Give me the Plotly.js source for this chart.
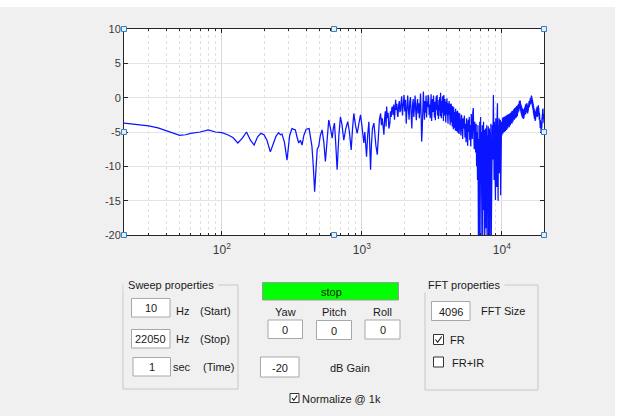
<!DOCTYPE html>
<html><head><meta charset="utf-8">
<script src="https://cdn.plot.ly/plotly-3.0.1.min.js"></script>
<style>html,body{margin:0;padding:0;background:#fff}#plot{width:641px;height:416px}</style>
</head><body><div id="plot"></div>
<script>
// ---- data (frequency in Hz, level in dB) ----
const freqLow = [20,25,30,35,40,45,50,55,60,70,80,90,100,110,120,130,140,150,160,170,180,190,
  200,210,222,234,244,254,262,269,280,292,305,317,335,345,354,364,374,385,395,
  400,420,440,450,460,470,480,492,505,520,535,549,565,580,597,614,625,637,650,666,685,703,722,743,768,793,815,839,858,876,900,926,952,978];
const dbLow = [-3.7,-3.9,-4.1,-4.4,-4.8,-5.1,-5.5,-5.4,-5.2,-5.0,-4.7,-5.0,-5.1,-5.4,-5.8,-6.6,-5.9,-5.0,-6.2,-6.9,-5.7,-5.2,
  -5.4,-6.2,-7.9,-6.6,-5.6,-5.1,-5.4,-5.3,-6.5,-9.1,-5.5,-4.5,-4.7,-5.8,-6.6,-6.2,-6.9,-5.5,-4.7,
  -4.6,-4.5,-7.1,-10.0,-13.7,-10.5,-7.5,-7.1,-5.5,-4.7,-6.5,-9.3,-5.5,-3.25,-4.5,-5.9,-4.5,-3.7,-6.5,-10.5,-5.5,-2.8,-4.0,-6.2,-4.5,-3.5,-5.0,-7.6,-4.5,-2.3,-4.0,-5.2,-3.8,-2.5];

const freqMid = [1000,1015,1033,1050,1065,1080,1100,1122,1138,1154,1170,1190,1219,1240,1260,1289,1310,1335,1361,1380,1400,1420,1437,1455,1470,1490,1503,1520,1540,1560,1586,1600,1620,1635,1650,1670,1690,1710,1725,1743,1760,1780,1795,1810,1830,1850,1870,1892,
  1900,1925,1950,1975,2000,2025,2050,2075,2100,2125,
  2150,2175,2200,2225,2250,2275,2300,2325,2350,2375,
  2400,2425,2450,2475,2500,2525,2550,2575,2600,2625,
  2650,2675,2700,2725,2750,2775,2800,2825,2850,2875,
  2900,2925,2950,2975,3000,3025,3050,3075,3100,3125,
  3150,3175,3200,3225,3250,3275,3300,3325,3350,3375,
  3400,3425,3450,3475,3500,3525,3550,3575,3600,3625,
  3650,3675,3700,3725,3750,3775,3800,3825,3850,3875,
  3900,3925,3950,3975,4000,4025,4050,4075,4100,4125,
  4150,4175,4200,4225,4250,4275,4300,4325,4350,4375,
  4400,4425,4450,4475,4500,4525,4550,4575,4600,4625,
  4650,4675,4700,4725,4750,4775,4800,4825,4850,4875,
  4900,4925,4950,4975];
const dbMid = [-4.0,-5.2,-6.6,-5.0,-7.5,-8.6,-5.5,-3.5,-6.8,-10.5,-7.0,-4.5,-3.7,-5.5,-7.0,-8.3,-5.0,-3.2,-2.3,-4.0,-3.0,-4.8,-5.4,-3.0,-2.0,-4.2,-1.3,-3.0,-2.2,-4.5,-3.7,-2.0,-2.8,-1.6,-1.3,-2.5,-1.0,-3.2,-0.6,-0.3,-1.8,-0.9,-2.5,-2.8,-1.2,-0.5,-2.1,-1.8,
  -1.0,0.2,-2.6,-0.5,0.4,-2.0,-0.3,-3.8,-0.8,0.3,
  -1.7,-3.2,-0.6,0.1,-2.4,-4.5,-1.2,-0.2,-2.8,-0.7,
  0.3,-1.9,-3.3,-1.0,-0.2,-2.3,-0.8,-3.0,-0.4,0.6,
  -2.5,-6.4,-4.6,-0.9,0.9,-1.6,-3.2,-0.5,-2.2,0.3,
  -2.9,-0.6,-1.4,0.4,0.0,-2.5,-1.0,-3.0,-0.4,0.5,
  -3.4,-1.2,-0.2,-2.1,0.3,-1.5,-2.9,-0.6,-3.3,-0.9,
  0.2,-1.8,0.4,-2.6,-1.1,-3.1,-0.3,-1.9,0.1,-2.7,
  0.7,-1.4,-3.0,-0.5,-2.2,0.2,-1.6,-3.4,0.4,-1.0,
  -2.6,-0.2,-1.8,-3.6,-0.6,-2.4,-0.1,-3.0,-1.2,-3.8,
  -0.8,-2.5,-0.5,-3.2,-1.6,-4.0,-1.0,-2.8,-0.9,-3.6,
  -1.5,-4.2,-1.2,-3.0,-4.6,-1.4,-2.9,-1.8,-4.4,-2.1,
  -4.8,-1.6,-3.4,-2.0,-4.9,-2.3,-3.6,-1.9,-5.1,-2.6,
  -3.9,-2.2,-5.3,-2.8];

const freqHigh = [5000,5050,5100,5150,5200,5250,5300,5350,5400,5450,5500,5550,5600,5650,5700,5750,5800,5850,5900,5950,
  6000,6050,6100,6150,6200,6250,6300,6350,6400,6450,6500,6550,6600,6650,6700,6750,6800,6850,6900,6950,
  7000,7050,7100,7150,7200,7250,7300,7350,7400,7450,7500,7550,7600,7650,7700,7750,7800,7850,7900,7950,
  8000,8050,8100,8150,8200,8250,8300,8350,8400,8450,8500,8550,8600,8650,8700,8750,8800,8850,8900,8950,
  9000,9050,9100,9150,9200,9250,9300,9350,9400,9450,9500,9550,9600,9650,9700,9750,9800,9850,9900,9950];
const dbHigh = [-2.3,-4.0,-5.5,-2.5,-3.5,-6.0,-3.0,-4.5,-2.6,-5.8,-3.8,-6.5,-3.0,-4.8,-7.0,-3.2,-5.0,-2.8,-6.2,-4.0,
  -7.1,-2.4,-4.5,-6.0,-2.2,-1.5,-5.0,-7.5,-3.5,-4.8,-8.0,-3.8,-10.0,-5.0,-12.0,-4.0,-20.5,-6.0,-22,-3.5,
  -9.0,-2.8,-24,-5.0,-14,-4.0,-21,-6.5,-3.5,-16.4,-4.7,-23,-8.0,-4.5,-19,-6.0,-4.0,-25,-5.5,-11,
  -4.2,-21,-7.0,-4.5,-23,-5.0,-13,-3.8,-20.5,-6.0,-15.9,-4.0,-9.0,-2.0,0.4,-5.0,-12,-3.5,-8.0,-4.5,
  -14.9,-3.0,-7.5,-4.2,-13,-2.8,-0.8,-6.0,-15,-4.0,-9.0,-3.0,-11,-4.5,-7.0,-3.2,-14.2,-4.0,-8.5,-3.5];

const freqTop = [10000,10050,10100,10150,10200,10250,10300,10350,10400,10450,
  10500,10550,10600,10650,10700,10750,10800,10850,10900,10950,
  11000,11050,11100,11150,11200,11250,11300,11350,11400,11450,
  11500,11550,11600,11650,11700,11750,11800,11850,11900,11950,
  12000,12050,12100,12150,12200,12250,12300,12350,12400,12450,
  12500,12550,12600,12650,12700,12750,12800,12850,12900,12950,
  13000,13050,13100,13150,13200,13250,13300,13350,13400,13450,
  13500,13550,13600,13650,13700,13750,13800,13850,13900,13950,
  14000,14050,14100,14150,14200,14250,14300,14350,14400,14450,
  14500,14550,14600,14650,14700,14750,14800,14850,14900,14950,
  15000,15050,15100,15150,15200,15250,15300,15350,15400,15450,
  15500,15550,15600,15650,15700,15750,15800,15850,15900,15950,
  16000,16050,16100,16150,16200,16250,16300,16350,16400,16450,
  16500,16550,16600,16650,16700,16750,16800,16850,16900,16950,
  17000,17050,17100,17150,17200,17250,17300,17350,17400,17450,
  17500,17550,17600,17650,17700,17750,17800,17850,17900,17950,
  18000,18050,18100,18150,18200,18250,18300,18350,18400,18450,
  18500,18550,18600,18650,18700,18750,18800,18850,18900,18950,
  19000,19050,19100,19150,19200,19250,19300,19350,19400,19450,
  19500,19550,19600,19650,19700,19750,19800,19850,19900,19950,
  20000];
const dbTop = [-5.5,-3.2,-4.8,-2.9,-5.2,-3.5,-4.4,-2.8,-5.0,-3.3,
  -4.6,-2.7,-4.9,-3.1,-4.2,-2.6,-4.7,-3.0,-4.0,-2.5,
  -4.5,-2.9,-4.1,-2.4,-3.9,-2.7,-4.3,-2.3,-3.6,-2.6,
  -4.0,-2.2,-3.7,-2.5,-3.4,-2.0,-3.8,-2.3,-3.2,-1.9,
  -3.5,-2.1,-3.3,-1.7,-3.0,-2.0,-3.2,-1.5,-2.8,-1.8,
  -3.0,-1.4,-2.6,-1.6,-2.9,-1.2,-2.4,-1.5,-2.7,-1.1,
  -2.3,-1.0,-2.1,-0.9,-2.0,-0.7,-1.8,-0.5,-1.6,-0.4,
  -1.4,-0.6,-1.9,-0.9,-2.2,-1.1,-2.5,-1.3,-2.7,-1.5,
  -2.9,-1.6,-3.0,-1.8,-2.8,-1.7,-3.1,-1.9,-2.9,-1.6,
  -2.7,-1.4,-2.5,-1.2,-2.3,-1.0,-2.4,-1.1,-2.2,-0.9,
  -2.1,-0.8,-2.0,-1.0,-2.2,-1.1,-2.3,-1.2,-2.0,-0.9,
  -1.8,-0.7,-1.6,-0.5,-1.4,-0.4,-1.3,-0.2,-1.1,-0.1,
  -1.0,0.0,-0.9,0.2,-0.8,0.3,-0.7,0.2,-0.9,-0.1,
  -1.2,-0.3,-1.5,-0.6,-1.8,-0.9,-2.2,-1.2,-2.5,-1.5,
  -2.8,-1.7,-3.1,-1.9,-3.3,-2.1,-3.4,-2.0,-3.2,-1.9,
  -3.0,-1.7,-2.9,-1.6,-2.7,-1.4,-2.6,-1.3,-2.8,-1.5,
  -2.7,-1.4,-2.5,-1.2,-2.4,-1.1,-2.6,-1.5,-2.9,-1.8,
  -3.2,-2.2,-3.6,-2.6,-4.0,-3.0,-4.4,-3.3,-4.7,-3.5,
  -4.9,-3.8,-5.1,-4.0,-4.8,-3.6,-4.4,-2.9,-3.8,-2.4,
  -3.2,-1.9,-2.9,-1.6,-2.7,-1.8,-3.0,-2.4,-3.5,-2.9,
  -3.7];

const yTickVals = [10,5,0,-5,-10,-15,-20];
const yTickText = ['10','5','0','-5','-10','-15','-20'];
const xTickVals = [100,1000,10000];
const xTickText = ['10<sup>2</sup>','10<sup>3</sup>','10<sup>4</sup>'];

// ---- layout helpers (pixel -> paper) ----
const W = 641, H = 416;
const px = x => x / W, py = y => 1 - y / H;
const FONT = 'Liberation Sans, Arial, sans-serif';
const shapes = [];
function rect(x0, y0, x1, y1, fill, line, lw) {
  shapes.push({type:'rect', xref:'paper', yref:'paper', x0:px(x0), x1:px(x1), y0:py(y1), y1:py(y0),
    fillcolor:fill || 'rgba(0,0,0,0)', line:{color:line || 'rgba(0,0,0,0)', width:lw === undefined ? 1 : lw}, layer:'above'});
}
function path(pts, color, lw) {
  const d = pts.map((p, i) => (i ? 'L' : 'M') + px(p[0]) + ',' + py(p[1])).join(' ');
  shapes.push({type:'path', xref:'paper', yref:'paper', path:d, line:{color:color, width:lw}, layer:'above'});
}
const ann = [];
function txt(x, y, t, opts) {
  opts = opts || {};
  ann.push(Object.assign({xref:'paper', yref:'paper', x:px(x), y:py(y), text:t, showarrow:false,
    xanchor:'center', yanchor:'middle', font:{family:FONT, size:11, color:'#1a1a1a'}}, opts));
}

// white outer strips
rect(0, 0, 641, 7, '#ffffff', null, 0);
rect(615, 0, 641, 416, '#ffffff', null, 0);

// selection handles on the axes
[[124,29],[334,29],[544,29],[124,132],[544,132],[124,235],[334,235],[544,235]].forEach(p => {
  rect(p[0]-2.5, p[1]-2.5, p[0]+2.5, p[1]+2.5, '#e4eef8', '#3c7fc0', 1);
});

// panels
rect(123, 285, 238, 389, null, '#c8c8c8', 1);
txt(171, 285, ' Sweep properties ', {bgcolor:'#f0f0f0'});
rect(425, 285, 538, 390, null, '#c8c8c8', 1);
txt(464, 285, ' FFT properties ', {bgcolor:'#f0f0f0'});

// edit boxes
function edit(x0, y0, x1, y1, t) {
  rect(x0, y0, x1, y1, '#ffffff', '#a8a8a8', 1);
  txt((x0 + x1) / 2, (y0 + y1) / 2 + 0.5, t);
}
edit(131.5, 298.5, 170, 317, '10');
edit(131.5, 329.5, 170, 348, '22050');
edit(133, 357.5, 170.5, 376, '1');
edit(268, 320, 302.5, 338.5, '0');
edit(316.5, 320.5, 351.5, 339.5, '0');
edit(365, 320, 400, 339, '0');
edit(260.5, 357, 299, 377, '-20');
edit(431.5, 301.5, 470, 320.5, '4096');

txt(182, 310.5, 'Hz');
txt(215, 310.5, '(Start)');
txt(182, 339, 'Hz');
txt(215, 339, '(Stop)');
txt(181.5, 367, 'sec');
txt(218, 367, '(Time)');

// green button
rect(262.5, 282.5, 398.5, 300, '#00ff00', '#9a9a9a', 1);
txt(331, 291.5, 'stop');

txt(285, 311.5, 'Yaw');
txt(333.5, 311.5, 'Pitch');
txt(382, 311.5, 'Roll');
txt(350, 368, 'dB Gain');
txt(502.5, 311, 'FFT Size');

// check boxes
function check(x0, y0, s, on) {
  rect(x0, y0, x0 + s, y0 + s, '#ffffff', '#333333', 1);
  if (on) path([[x0 + 2, y0 + s * 0.5], [x0 + s * 0.42, y0 + s - 2.2], [x0 + s - 1.8, y0 + 2]], '#222222', 1.2);
}
check(290, 393.5, 9, true);
txt(341.5, 398.5, 'Normalize @ 1k');
check(433.5, 334.5, 10, true);
txt(457.5, 339.5, 'FR');
check(433.5, 357, 10, false);
txt(468, 362.5, 'FR+IR');

const trace = {
  type:'scatter', mode:'lines',
  x: freqLow.concat(freqMid, freqHigh, freqTop),
  y: dbLow.concat(dbMid, dbHigh, dbTop),
  line:{color:'#0a14ff', width:1.25}, hoverinfo:'skip'
};

const axisFont = {family:FONT, size:11, color:'#3a3a3a'};
const layout = {
  width:W, height:H, margin:{l:0, r:0, t:0, b:0, pad:0},
  paper_bgcolor:'#f0f0f0', plot_bgcolor:'#ffffff', showlegend:false,
  xaxis:{type:'log', domain:[124/W, 544/W], range:[Math.log10(20), Math.log10(20000)],
    tickmode:'array', tickvals:xTickVals, ticktext:xTickText, tickfont:{family:FONT, size:12, color:'#3a3a3a'},
    ticklabelstandoff:4,
    ticks:'inside', ticklen:4, tickcolor:'#262626', showline:true, linecolor:'#262626', linewidth:1, mirror:'ticks',
    showgrid:true, gridcolor:'#d8d8d8', gridwidth:1, zeroline:false,
    minor:{dtick:'D1', ticks:'inside', ticklen:2, tickcolor:'#262626', showgrid:true, gridcolor:'#e0e0e0', griddash:'dot'}},
  yaxis:{domain:[1-235/H, 1-29/H], range:[-20, 10],
    tickmode:'array', tickvals:yTickVals, ticktext:yTickText, tickfont:axisFont,
    ticks:'inside', ticklen:4, tickcolor:'#262626', showline:true, linecolor:'#262626', linewidth:1, mirror:'ticks',
    showgrid:true, gridcolor:'#e4e4e4', gridwidth:1, zeroline:false},
  shapes:shapes, annotations:ann
};
Plotly.newPlot('plot', [trace], layout, {staticPlot:true, displayModeBar:false});
</script></body></html>
